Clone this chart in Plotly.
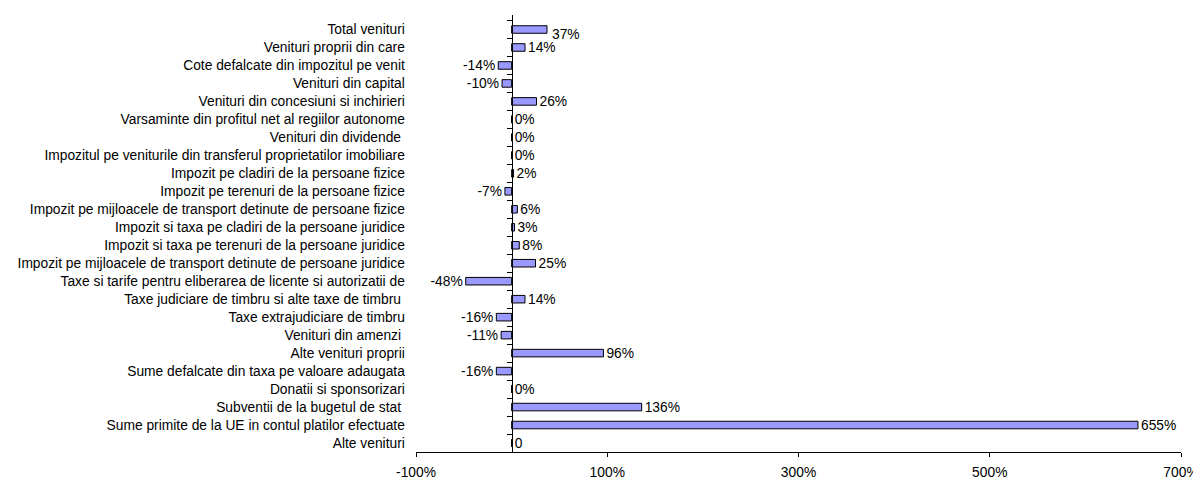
import plotly.graph_objects as go

categories = [
    "Total venituri",
    "Venituri proprii din care",
    "Cote defalcate din impozitul pe venit",
    "Venituri din capital",
    "Venituri din concesiuni si inchirieri",
    "Varsaminte din profitul net al regiilor autonome",
    "Venituri din dividende ",
    "Impozitul pe veniturile din transferul proprietatilor imobiliare",
    "Impozit pe cladiri de la persoane fizice",
    "Impozit pe terenuri de la persoane fizice",
    "Impozit pe mijloacele de transport detinute de persoane fizice",
    "Impozit si taxa pe cladiri de la persoane juridice",
    "Impozit si taxa pe terenuri de la persoane juridice",
    "Impozit pe mijloacele de transport detinute de persoane juridice",
    "Taxe si tarife pentru eliberarea de licente si autorizatii de",
    "Taxe judiciare de timbru si alte taxe de timbru ",
    "Taxe extrajudiciare de timbru",
    "Venituri din amenzi ",
    "Alte venituri proprii",
    "Sume defalcate din taxa pe valoare adaugata",
    "Donatii si sponsorizari",
    "Subventii de la bugetul de stat ",
    "Sume primite de la UE in contul platilor efectuate",
    "Alte venituri",
]

values = [37, 14, -14, -10, 26, 0, 0, 0, 2, -7, 6, 3, 8, 25, -48, 14, -16, -11, 96, -16, 0, 136, 655, 0]

value_labels = ["37%", "14%", "-14%", "-10%", "26%", "0%", "0%", "0%", "2%", "-7%", "6%", "3%",
                "8%", "25%", "-48%", "14%", "-16%", "-11%", "96%", "-16%", "0%", "136%", "655%", "0"]

x_tickvals = [-100, 100, 300, 500, 700]
x_ticktext = ["-100%", "100%", "300%", "500%", "700%"]
x_range = [-100, 700]

FONT = "Liberation Sans, Arial, sans-serif"
FS = 13.8

# the first data label sits a little lower than its bar in the original
bar_text = [""] + value_labels[1:]

fig = go.Figure()
fig.add_trace(go.Bar(
    y=categories,
    x=values,
    orientation="h",
    width=0.42,
    marker=dict(color="#9999FF", line=dict(color="#000000", width=1)),
    text=bar_text,
    textposition="outside",
    constraintext="none",
    textfont=dict(family=FONT, size=FS, color="#000000"),
    cliponaxis=False,
))

fig.add_annotation(
    x=values[0], y=categories[0], text=value_labels[0],
    showarrow=False, xanchor="left", yanchor="middle",
    xshift=3, yshift=-5,
    font=dict(family=FONT, size=FS, color="#000000"),
)

# position of x = 0 in paper fraction of the x domain
zero_pos = (0 - x_range[0]) / (x_range[1] - x_range[0])

# the page body adds an 8px offset, so the figure is 8px smaller than the window
fig.update_layout(
    width=1193,
    height=470,
    margin=dict(l=408, r=20, t=7, b=26, autoexpand=False),
    paper_bgcolor="white",
    plot_bgcolor="white",
    showlegend=False,
    font=dict(family=FONT, size=FS, color="#000000"),
    xaxis=dict(
        range=x_range,
        tickvals=x_tickvals,
        ticktext=x_ticktext,
        showline=True,
        linecolor="#000000",
        linewidth=1,
        ticks="outside",
        ticklen=4,
        tickcolor="#000000",
        showgrid=False,
        zeroline=False,
        automargin=False,
        ticklabelstandoff=3,
        tickfont=dict(family=FONT, size=FS),
    ),
    yaxis=dict(
        type="category",
        categoryorder="array",
        categoryarray=categories,
        autorange="reversed",
        anchor="free",
        position=zero_pos,
        showline=True,
        linecolor="#000000",
        linewidth=1,
        ticks="outside",
        ticklen=5,
        tickcolor="#000000",
        tickson="boundaries",
        showgrid=False,
        zeroline=False,
        automargin=False,
        ticklabelstandoff=104,
        tickfont=dict(family=FONT, size=FS),
    ),
)

fig.write_html("out.html")
